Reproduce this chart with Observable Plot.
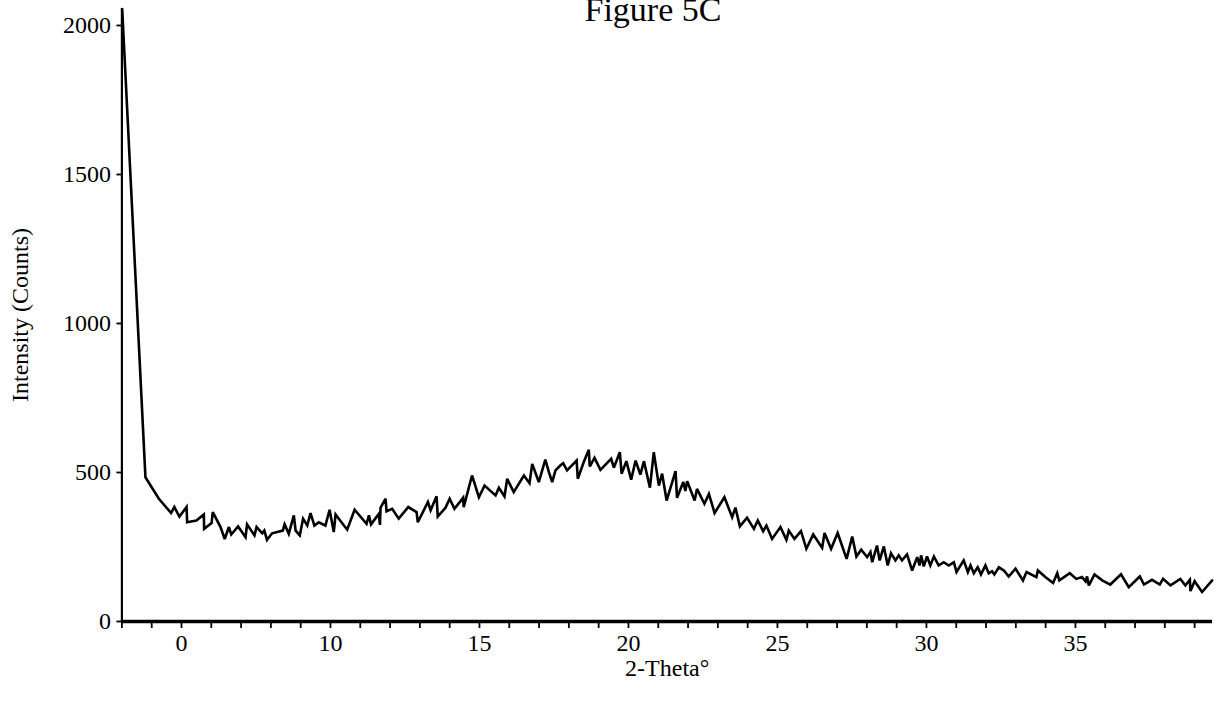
<!DOCTYPE html>
<html>
<head>
<meta charset="utf-8">
<script src="https://cdn.jsdelivr.net/npm/d3@7"></script>
<script src="https://cdn.jsdelivr.net/npm/@observablehq/plot@0.6"></script>
<style>
  html, body { margin: 0; padding: 0; background: #fff; }
  #wrap { position: relative; width: 1217px; height: 707px; overflow: hidden; background: #fff; }
  #title { position: absolute; left: 353px; width: 600px; top: -7px; text-align: center;
           font-family: "Liberation Serif", "Times New Roman", serif; font-size: 34px; line-height: 34px; color: #000; }
  #chart { position: absolute; left: 0; top: 0; }
</style>
</head>
<body>
<div id="wrap">
  <div id="chart"></div>
  <div id="title">Figure 5C</div>
</div>
<script>
// 2-Theta (degrees)
const twoTheta = [
  3.01, 3.79, 4.24, 4.65, 4.76, 4.93, 5.17, 5.19, 5.50, 5.75, 5.76, 6.01, 6.05, 6.31, 6.45, 6.59, 6.67, 6.90, 7.15, 7.20,
  7.45, 7.52, 7.71, 7.78, 7.87, 8.04, 8.40, 8.46, 8.60, 8.77, 8.83, 8.97, 9.08, 9.22, 9.33, 9.46, 9.61, 9.83, 9.97, 10.11,
  10.17, 10.56, 10.81, 11.21, 11.29, 11.36, 11.62, 11.66, 11.68, 11.85, 11.88, 12.07, 12.29, 12.61, 12.89, 12.93, 13.27, 13.36, 13.56, 13.60,
  13.86, 14.00, 14.16, 14.45, 14.47, 14.75, 14.98, 15.17, 15.54, 15.65, 15.84, 15.93, 16.15, 16.49, 16.68, 16.77, 16.99, 17.21, 17.33, 17.44,
  17.55, 17.72, 17.81, 17.94, 18.26, 18.30, 18.50, 18.67, 18.70, 18.86, 19.06, 19.42, 19.51, 19.71, 19.77, 19.93, 20.09, 20.24, 20.40, 20.52,
  20.72, 20.85, 21.02, 21.13, 21.28, 21.58, 21.63, 21.84, 21.91, 21.97, 22.22, 22.30, 22.55, 22.70, 22.89, 23.22, 23.48, 23.59, 23.74, 23.98,
  24.21, 24.34, 24.52, 24.63, 24.82, 25.10, 25.30, 25.38, 25.57, 25.79, 25.97, 26.20, 26.50, 26.58, 26.80, 27.02, 27.32, 27.51, 27.65, 27.81,
  28.01, 28.12, 28.18, 28.34, 28.43, 28.57, 28.70, 28.81, 28.96, 29.07, 29.18, 29.35, 29.52, 29.69, 29.77, 29.82, 29.91, 30.02, 30.13, 30.25,
  30.41, 30.58, 30.75, 30.92, 31.01, 31.25, 31.39, 31.48, 31.59, 31.72, 31.83, 31.98, 32.09, 32.20, 32.28, 32.43, 32.60, 32.76, 32.99, 33.24,
  33.36, 33.69, 33.74, 33.99, 34.25, 34.39, 34.46, 34.81, 35.03, 35.22, 35.34, 35.39, 35.45, 35.64, 35.90, 36.17, 36.53, 36.79, 37.16, 37.30,
  37.57, 37.83, 37.94, 38.19, 38.52, 38.69, 38.84, 38.86, 39.00, 39.25, 39.59
];
// Intensity (Counts)
const intensity = [
  2055, 484, 412, 364, 384, 352, 384, 333, 339, 359, 311, 330, 367, 317, 277, 317, 292, 319, 283, 326,
  289, 317, 296, 305, 274, 296, 305, 326, 294, 356, 305, 289, 345, 322, 364, 322, 333, 322, 375, 300,
  359, 308, 375, 328, 356, 326, 361, 324, 382, 412, 370, 378, 345, 384, 367, 333, 401, 373, 420, 352,
  382, 412, 378, 415, 384, 490, 417, 456, 423, 449, 420, 479, 434, 490, 464, 529, 468, 543, 501, 468,
  507, 524, 531, 507, 540, 479, 535, 576, 520, 549, 509, 546, 516, 568, 496, 538, 476, 540, 493, 538,
  449, 568, 456, 496, 406, 505, 415, 468, 438, 471, 406, 445, 395, 428, 364, 417, 350, 382, 319, 348,
  311, 339, 303, 322, 277, 317, 274, 305, 277, 303, 244, 292, 247, 297, 244, 297, 210, 285, 218, 241,
  216, 233, 199, 255, 205, 252, 188, 229, 205, 222, 205, 225, 171, 216, 188, 222, 185, 218, 188, 218,
  188, 199, 188, 199, 166, 205, 166, 188, 162, 182, 158, 188, 162, 169, 158, 182, 171, 151, 177, 138,
  166, 149, 171, 149, 129, 162, 138, 162, 143, 149, 135, 151, 121, 158, 138, 124, 158, 115, 151, 124,
  140, 124, 143, 121, 143, 121, 140, 102, 135, 99, 138
];
// Axis ticks and labels (as printed in the figure)
const xDomain = [3, 39.6];
const yDomain = [0, 2057];
const xMinorTicks = d3.range(3, 40);
const xLabelTicks = [5, 10, 15, 20, 25, 30, 35];
const xLabelTexts = ["0", "10", "15", "20", "25", "30", "35"];
const yTicks = [0, 500, 1000, 1500, 2000];
const yTickLabels = ["0", "500", "1000", "1500", "2000"];

const data = twoTheta.map((t, i) => ({t, c: intensity[i]}));
const xLabelOf = d => { const i = xLabelTicks.indexOf(d); return i < 0 ? "" : xLabelTexts[i]; };
const yLabelOf = d => yTickLabels[yTicks.indexOf(d)];

const chart = Plot.plot({
  width: 1217,
  height: 707,
  marginLeft: 121.4,
  marginRight: 5,
  marginTop: 8,
  marginBottom: 86,
  style: {fontFamily: "'Liberation Serif', 'Times New Roman', serif", fontSize: "24px", background: "transparent", color: "#000", overflow: "visible"},
  x: {domain: xDomain},
  y: {domain: yDomain},
  marks: [
    Plot.axisX(xMinorTicks, {tickSize: 7, tickPadding: 5, strokeWidth: 1.8, tickFormat: xLabelOf,
      label: "2-Theta°", labelAnchor: "center", labelArrow: false, labelOffset: 54}),
    Plot.axisY(yTicks, {tickSize: 5, tickPadding: 6, strokeWidth: 1.8, tickFormat: yLabelOf,
      label: "Intensity (Counts)", labelAnchor: "center", labelArrow: false, labelOffset: 111}),
    Plot.ruleX([xDomain[0]], {stroke: "#000", strokeWidth: 2.2}),
    Plot.ruleY([0], {stroke: "#000", strokeWidth: 3.5}),
    Plot.line(data, {x: "t", y: "c", stroke: "#000", strokeWidth: 2.6, strokeLinejoin: "miter", strokeMiterlimit: 3})
  ]
});
document.getElementById("chart").appendChild(chart);
</script>
</body>
</html>
